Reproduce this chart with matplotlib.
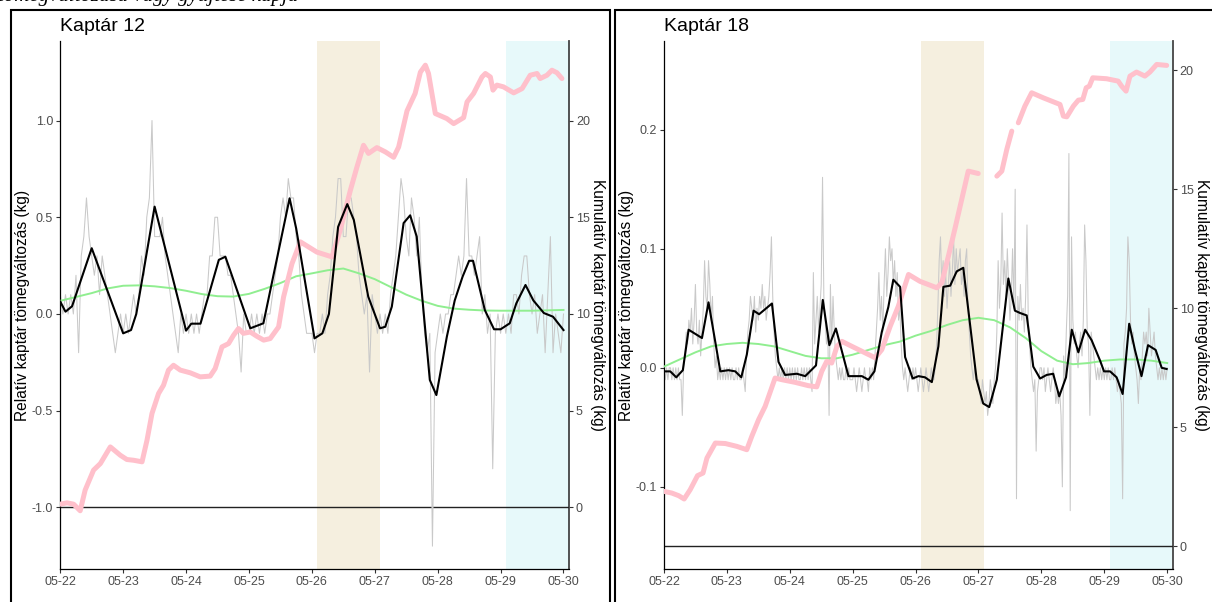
import matplotlib
matplotlib.use("Agg")
import matplotlib.pyplot as plt
import matplotlib.dates as mdates
from matplotlib.patches import Rectangle
import numpy as np
import datetime as dt

plt.rcParams['font.family'] = ['Liberation Sans', 'DejaVu Sans']
plt.rcParams['axes.unicode_minus'] = False

START = dt.datetime(2023, 5, 22)
TITLES = ["Kaptár 12", "Kaptár 18"]
YLABEL_L = "Relatív kaptár tömegváltozás (kg)"
YLABEL_R = "Kumulatív kaptár tömegváltozás (kg)"

# ---------------- Kaptár 12 ----------------
k12_black_h = [0, 2, 4.5, 12, 24, 27, 29, 36, 48, 50, 53.5, 60.5, 63, 72.5, 77.5, 87.5, 90,
               97, 100, 102.5, 106, 109.5, 112, 117.5, 122, 124, 126.5, 131, 133.5, 136, 141,
               143.5, 147.5, 150.5, 153.5, 156, 157.5, 162, 165.5, 168, 171.5, 174, 177.5,
               180.5, 184.5, 188, 192]
k12_black = [0.064, 0.012, 0.04, 0.34, -0.1, -0.083, 0.0, 0.555, -0.086, -0.05, -0.05, 0.28,
             0.296, -0.074, -0.048, 0.598, 0.443, -0.126, -0.1, 0.0, 0.45, 0.568, 0.486, 0.09,
             -0.074, -0.066, 0.038, 0.47, 0.51, 0.4, -0.341, -0.419, -0.117, 0.07, 0.193, 0.275,
             0.275, 0.02, -0.079, -0.079, -0.048, 0.055, 0.15, 0.07, 0.005, -0.014, -0.083]
# hourly raw change, in 0.1 kg units
k12_gray_tenths = [
    1, 0, 1, 0, 1, 0, 2, -2, 3, 4, 6, 4, 3, 2, 3, 1, 3, 2, 1, 0, -1, -2, -1, 0,
    -1, 0, -1, 0, 1, 0, 1, 3, 2, 5, 6, 10, 4, 4, 4, 5, 3, 2, 1, 0, -1, -2, 0, -1,
    0, -1, 0, -1, 0, -1, 0, 1, 1, 3, 3, 5, 5, 3, 3, 3, 2, 2, 1, 0, -1, -3, 0, -1,
    -1, 0, -1, 0, -1, 0, -1, 0, 0, 1, 2, 3, 5, 6, 5, 7, 6, 6, 4, 3, 1, 0, -1, -1,
    -1, -2, -1, -1, 0, -1, 1, 2, 4, 5, 7, 7, 4, 4, 6, 6, 5, 4, 2, 1, 0, 1, -3, 1,
    0, -1, 0, -1, 0, -1, 1, 2, 3, 5, 7, 6, 4, 3, 6, 5, 3, 5, 1, -1, -2, -1, -12, -2,
    -1, 0, -1, 0, 0, 1, 1, 2, 3, 2, 3, 7, 3, 3, 2, 3, 4, 0, 1, -1, 0, -8, -1, 0,
    -1, 0, -1, 0, -1, 1, 1, 0, 2, 3, 3, 1, 0, 1, -1, 0, 1, -2, 1, 4, -2, 0, -1, -2,
    0]
# smooth trend every 6 hours
k12_green = [0.068, 0.088, 0.108, 0.132, 0.146, 0.148, 0.143, 0.134, 0.12, 0.103, 0.092,
             0.09, 0.104, 0.13, 0.16, 0.195, 0.21, 0.226, 0.235, 0.21, 0.18, 0.14, 0.1,
             0.068, 0.042, 0.028, 0.022, 0.018, 0.017, 0.017, 0.017, 0.019, 0.021]
k12_cum_h = [0, 2.6, 5.1, 7.6, 9.5, 12.7, 15.3, 19.1, 22.9, 25.4, 28, 31.2, 33.1, 35, 37.5,
             39.4, 41.3, 43.2, 45.8, 49.6, 53.4, 57.2, 59.1, 61.7, 64.2, 66.1, 68, 69.9, 72.5,
             75, 77.6, 80.1, 83.3, 85.2, 88.4, 91.6, 97.9, 103.7, 106.8, 110.7, 113.2, 115.7,
             117.6, 120.8, 124, 127.2, 129.1, 132.3, 135.4, 137.4, 139.3, 140.5, 143.1, 147.5,
             150.1, 153.9, 155.2, 157.7, 160.9, 162.2, 164.1, 165.1, 166.6, 169.1, 173, 176.2,
             179.3, 181.9, 183.1, 185.7, 187.6, 189.5, 191.4]
k12_cum = [0.17, 0.24, 0.17, -0.17, 0.9, 1.93, 2.27, 3.13, 2.7, 2.48, 2.44, 2.36, 3.48, 4.86,
           5.89, 6.32, 7.1, 7.35, 7.1, 6.96, 6.75, 6.79, 7.18, 8.3, 8.47, 8.9, 9.25, 9.0, 9.07,
           8.85, 8.65, 8.73, 9.33, 10.88, 12.6, 13.73, 13.2, 12.95, 14.33, 16.4, 17.6, 18.72,
           18.3, 18.6, 18.38, 18.1, 18.63, 20.5, 21.4, 22.5, 22.86, 22.43, 20.36, 20.1, 19.84,
           20.15, 20.96, 21.4, 22.25, 22.43, 22.25, 21.57, 21.83, 21.74, 21.43, 21.65, 22.34,
           22.43, 22.17, 22.34, 22.6, 22.47, 22.17]

# ---------------- Kaptár 18 ----------------
k18_black_h = [0, 2.4, 4.7, 7.2, 9.4, 14.5, 17, 21.5, 24.6, 27.2, 29.5, 31.6, 34.2, 36.3, 41.2,
               43.7, 46.2, 50.7, 53.9, 58, 60.6, 63.1, 65.6, 70.4, 75.5, 78, 80.3, 83.1, 85.6,
               87.5, 90.1, 92, 94.9, 97.1, 99.6, 102.2, 104.7, 106.6, 109.2, 111.7, 114.2,
               119.3, 121.8, 124.1, 127, 131.4, 133.9, 135.9, 138.4, 140.9, 143.5, 146, 148.5,
               150.8, 153.4, 155.6, 158.1, 160.7, 163.2, 166.4, 167.9, 170.2, 172.7, 175,
               177.5, 179.7, 182.2, 184.7, 187.6, 189.9, 191.8]
k18_black = [-0.003, -0.003, -0.008, -0.002, 0.032, 0.025, 0.055, -0.003, -0.002, -0.003,
             -0.008, 0.011, 0.048, 0.045, 0.054, 0.005, -0.006, -0.005, -0.007, 0.002, 0.057,
             0.019, 0.033, -0.007, -0.007, -0.01, -0.003, 0.03, 0.051, 0.074, 0.068, 0.009,
             -0.009, -0.007, -0.008, -0.012, 0.018, 0.068, 0.069, 0.081, 0.084, -0.01, -0.03,
             -0.033, -0.01, 0.075, 0.048, 0.046, 0.044, 0.001, -0.009, -0.006, -0.005, -0.024,
             -0.008, 0.032, 0.013, 0.032, 0.023, 0.006, -0.003, -0.003, -0.008, -0.022, 0.037,
             0.015, -0.007, 0.019, 0.015, 0.0, -0.001]
# half-hourly raw change, in 0.01 kg units
k18_gray_hundredths = [
    0, -1, 0, -1, 0, 0, -1, 0, -1, 0, -1, 0, -1, -1, -4, 0, 1, 3, 2, 4, 3, 5, 2, 4, 7, 3,
    2, 4, 1, 3, 5, 9, 6, 5, 9, 7, 4, 6, 2, 0, 1, -1, 0, -1, 0, -1, 0, -1,
    0, -1, 0, -1, 0, -1, -1, 0, -1, 0, -1, -1, 0, -1, -2, 1, 3, 4, 6, 5, 4, 6, 3, 5, 4, 6,
    5, 7, 5, 6, 4, 5, 6, 8, 11, 6, 3, 1, 0, -1, 0, -1, 0, -1, 0, -1, 0, -1,
    0, -1, 0, -1, 0, -1, 0, -1, -1, 0, -1, 0, -1, 0, -1, 0, -1, -2, 8, 2, 4, 6, 3, 5, 7,
    16, 6, 4, 2, 3, -4, 7, 2, 6, 3, 1, 0, -1, 0, -1, 0, -1, -1, 0, -1, 0, -1, -1,
    -1, 0, -1, -2, -1, 0, -1, -2, -1, 0, -1, -1, -2, 0, -1, 0, -1, 1, 3, 5, 8, 4, 6, 3, 7,
    10, 6, 8, 11, 9, 10, 7, 9, 6, 8, 4, 5, 2, 0, -1, 0, -1, -2, -1, 0, -1, 0, -1,
    0, -1, -2, -1, 0, -1, -2, -1, 0, -1, -2, -1, 0, -1, -1, 0, 2, 5, 9, 11, 7, 9, 6, 8, 5,
    7, 9, 6, 8, 11, 7, 10, 8, 9, 10, 7, 8, 6, 9, 10, 5, 3, 1, 0, -1, 0, -1, -1,
    -1, -2, -3, -1, -2, -3, -2, -4, -3, -1, -2, -3, -1, 0, 3, 9, 5, 7, 13, 7, 9, 6, 10, 7,
    4, 6, 10, 5, 15, -11, 6, 4, 7, 4, 5, 3, 6, 12, 4, 2, 0, -1, -2, -1, -7, -2, -1, 0,
    0, -1, 0, -2, -1, 0, -1, -2, -1, 0, -1, -3, -2, -3, -2, -4, -10, 1, -1, 3, 6, 18, -12,
    11, 4, 2, 3, 1, 0, 2, 3, 1, 4, 12, 9, 3, 2, -4, 3, 2, 1, 0, -1, 0, -1, 0, -1, 0,
    -1, 0, -1, 0, -1, -1, 0, -1, 0, -1, -2, -1, -2, -3, -11, 2, 3, 5, 11, 9, 4, 2, 3, 1, 0,
    -1, -3, 0, -1, 1, 3, 2, 3, 1, 5, 3, 1, 2, 3, 1, 0, -1, 0, -1, 0, -1, 0, -1,
    0]
k18_green = [0.001, 0.007, 0.013, 0.018, 0.020, 0.021, 0.020, 0.018, 0.014, 0.010, 0.008,
             0.008, 0.011, 0.015, 0.019, 0.022, 0.027, 0.031, 0.036, 0.040, 0.042, 0.040,
             0.034, 0.025, 0.014, 0.006, 0.003, 0.004, 0.006, 0.007, 0.007, 0.006, 0.004]
k18_cum_h = [0, 3, 5.6, 7.7, 10, 12.8, 14.9, 16.4, 19.6, 23.4, 27.8, 31.6, 33.5, 36.1, 38.6,
             42.4, 45, 50, 55.1, 58.3, 60.2, 62.1, 64, 66, 67.9, 71.7, 76.7, 80.6, 83.1, 86.3,
             89.4, 93.3, 97.7, 104.1, 106, 108.5, 111.1, 113.6, 116.1, 119.9, 122, 127, 128.9,
             130.8, 132.7, 133.5, 135.2, 137.7, 140.3, 144.7, 151.1, 152.4, 153.7, 156.2,
             158.1, 159.8, 161.1, 162.3, 163.6, 168.9, 173.3, 174.6, 176.3, 177.8, 180.3,
             183.5, 185.4, 188, 191.8]
k18_cum = [2.31, 2.24, 2.13, 1.99, 2.38, 2.97, 3.08, 3.71, 4.34, 4.32, 4.2, 4.06, 4.62, 5.32,
           5.88, 7.07, 7.0, 6.89, 6.75, 6.7, 7.35, 7.77, 7.7, 8.4, 8.61, 8.4, 8.13, 7.92, 8.26,
           9.24, 10.08, 11.42, 11.13, 10.86, 11.07, 12.18, 13.38, 14.57, 15.76, 15.66, np.nan,
           15.55, 15.76, 16.67, 17.44, np.nan, 17.79, 18.49, 19.05, 18.84, 18.56, 18.07, 18.04,
           18.49, 18.74, 18.77, 19.26, 19.33, 19.68, 19.64, 19.54, 19.33, 19.12, 19.75, 19.92,
           19.75, 19.92, 20.24, 20.2]

# highlighted periods (hours from start)
SPAN_BEIGE = (98, 122)
SPAN_CYAN = (170, 194)

W, H = 1212, 602
fig = plt.figure(figsize=(W / 100, H / 100), dpi=100)
base = mdates.date2num(START)


def hx(hours):
    return base + np.asarray(hours, float) / 24.0


def panel(x0, title, black_h, black, gray_step, gray, green, cum_h, cum, off, scale,
          ylim, yticks, cumticks):
    ax = fig.add_axes([x0 / W, 1 - 569 / H, 509 / W, 528 / H])
    to_cum = lambda r: (np.asarray(r, float) + off) * scale
    to_rel = lambda c: np.asarray(c, float) / scale - off

    ax.axvspan(hx(SPAN_BEIGE[0]), hx(SPAN_BEIGE[1]), color="#F5EFDF", lw=0, zorder=0)
    ax.axvspan(hx(SPAN_CYAN[0]), hx(SPAN_CYAN[1]), color="#E7F9FA", lw=0, zorder=0)
    ax.axhline(to_rel(0), color="#222222", lw=1.0, zorder=1)

    gh = np.arange(len(gray)) * gray_step
    ax.plot(hx(gh), gray, color="#C9C9C9", lw=0.75, zorder=2)
    ax.plot(hx(np.arange(len(green)) * 6), green, color="#90EE90", lw=1.4, zorder=3)
    ax.plot(hx(cum_h), to_rel(cum), color="#FFC0CB", lw=3.6, zorder=4,
            solid_capstyle="round", solid_joinstyle="round")
    ax.plot(hx(black_h), black, color="black", lw=1.5, zorder=5)

    ax.set_xlim(hx(-0.1), hx(194.1))
    ax.set_ylim(*ylim)
    ax.set_yticks(yticks)
    ax.yaxis.set_major_formatter(matplotlib.ticker.FormatStrFormatter("%.1f"))
    ax.xaxis.set_major_locator(mdates.DayLocator())
    ax.xaxis.set_major_formatter(mdates.DateFormatter("%m-%d"))
    for s in ("top", "right"):
        ax.spines[s].set_visible(False)
    for s in ("left", "bottom"):
        ax.spines[s].set_color("black")
        ax.spines[s].set_linewidth(0.9)
    ax.tick_params(axis="both", direction="out", length=2.75, width=0.8, color="#333333",
                   labelsize=9.0, labelcolor="#4D4D4D", pad=2.2)

    sec = ax.secondary_yaxis("right", functions=(to_cum, to_rel))
    sec.set_yticks(cumticks)
    sec.yaxis.set_major_formatter(matplotlib.ticker.FormatStrFormatter("%d"))
    sec.spines["right"].set_color("#444444")
    sec.spines["right"].set_linewidth(1.3)
    sec.tick_params(axis="y", direction="out", length=2.75, width=0.8, color="#333333",
                    labelsize=9.0, labelcolor="#4D4D4D", pad=2.2)

    ax.set_ylabel(YLABEL_L, fontsize=11.2, color="black", va="center")
    ax.yaxis.set_label_coords(-37.5 / 509, 0.5)
    sec.set_ylabel(YLABEL_R, fontsize=11.2, color="black", rotation=270, va="center")
    sec.yaxis.set_label_coords(537.5 / 509, 0.5, transform=ax.transAxes)

    ax.set_title(title, loc="left", fontsize=14, pad=7)
    return ax


panel(60, TITLES[0], k12_black_h, k12_black, 1.0, np.array(k12_gray_tenths) / 10.0,
      k12_green, k12_cum_h, k12_cum, 1.0, 10.0, (-1.318, 1.411),
      [-1.0, -0.5, 0.0, 0.5, 1.0], [0, 5, 10, 15, 20])
panel(663.7, TITLES[1], k18_black_h, k18_black, 0.5, np.array(k18_gray_hundredths) / 100.0,
      k18_green, k18_cum_h, k18_cum, 0.15, 50.0, (-0.169, 0.2745),
      [-0.1, 0.0, 0.1, 0.2], [0, 5, 10, 15, 20])

# panel frames (as in the source document)
fig.add_artist(Rectangle((11 / W, -0.1), (610 - 11) / W, 1.1 - 10 / H, transform=fig.transFigure,
                         fill=False, ec="black", lw=1.5, clip_on=False))
fig.add_artist(Rectangle((615 / W, -0.1), 0.6, 1.1 - 10 / H, transform=fig.transFigure,
                         fill=False, ec="black", lw=1.5, clip_on=False))

# partially visible caption line above the panels (cut by the page edge in the source)
fig.text(-0.002, 1 - 1.5 / H, "tömegváltozása vagy gyűjtése kapja",
         family="Liberation Serif", style="italic", fontsize=15, va="baseline", ha="left")

fig.savefig("out.png", dpi=100)
